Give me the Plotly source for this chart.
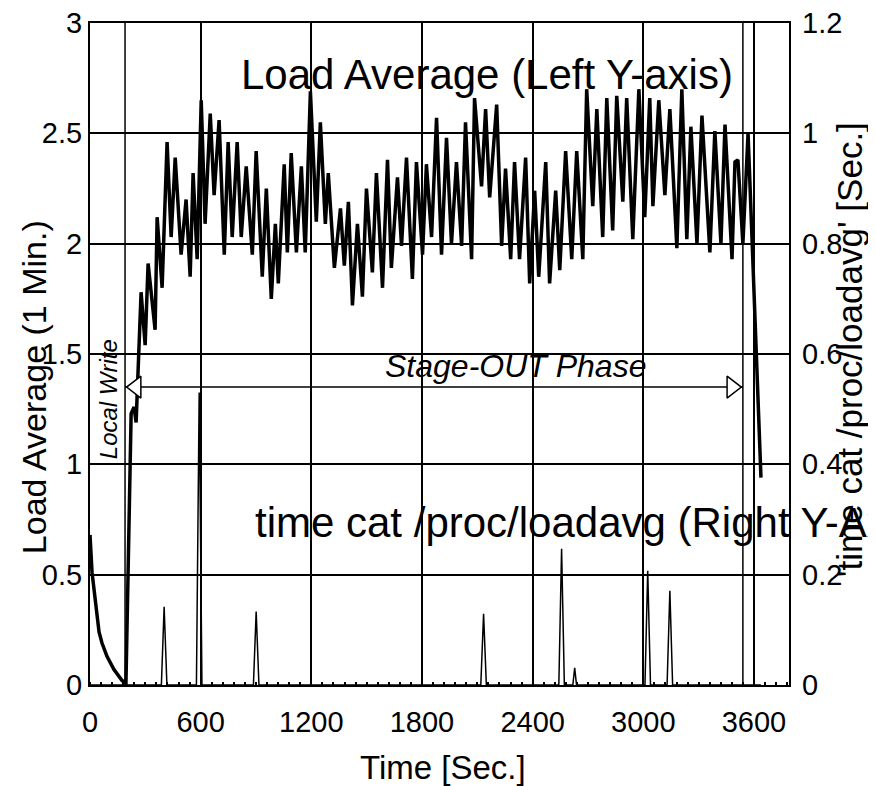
import plotly.graph_objects as go

# Load average (1 min) samples, left y-axis
load_times = [0, 11, 49, 65, 92, 130, 174, 195, 223, 239, 250, 277, 299, 315, 353, 364,
              391, 418, 440, 462, 494, 521, 543, 559, 581, 603, 624, 652, 673, 700, 728,
              749, 771, 798, 820, 847, 880, 901, 934, 956, 983, 1005, 1021, 1053, 1070,
              1091, 1119, 1146, 1167, 1195, 1227, 1249, 1276, 1292, 1325, 1358, 1379,
              1401, 1423, 1450, 1477, 1499, 1531, 1553, 1586, 1613, 1634, 1667, 1689,
              1716, 1748, 1770, 1803, 1824, 1852, 1879, 1906, 1933, 1960, 1987, 2015,
              2036, 2069, 2085, 2123, 2145, 2167, 2205, 2232, 2253, 2281, 2302, 2329,
              2362, 2384, 2411, 2433, 2471, 2492, 2525, 2547, 2579, 2612, 2639, 2672,
              2693, 2726, 2748, 2780, 2802, 2834, 2856, 2889, 2910, 2943, 2976, 3008,
              3035, 3052, 3084, 3117, 3144, 3182, 3209, 3236, 3258, 3291, 3318, 3361,
              3388, 3421, 3443, 3481, 3497, 3513, 3540, 3568, 3589, 3638]
load_values = [0.68, 0.51, 0.24, 0.19, 0.13, 0.07, 0.02, 0.01, 1.23, 1.26, 1.19, 1.78, 1.54,
               1.91, 1.61, 2.12, 1.80, 2.46, 2.03, 2.39, 1.95, 2.20, 1.85, 2.32, 1.93, 2.65,
               2.09, 2.59, 2.22, 2.56, 1.95, 2.46, 2.03, 2.46, 2.03, 2.35, 1.95, 2.42, 1.85,
               2.25, 1.75, 2.09, 1.82, 2.36, 1.96, 2.41, 1.96, 2.35, 1.96, 2.69, 2.10, 2.55,
               2.09, 2.32, 1.89, 2.16, 1.90, 2.19, 1.72, 2.09, 1.76, 2.25, 1.87, 2.32, 1.80,
               2.38, 1.89, 2.30, 1.99, 2.39, 1.84, 2.37, 1.95, 2.36, 2.03, 2.57, 1.95, 2.48,
               2.00, 2.37, 1.99, 2.55, 1.93, 2.66, 2.26, 2.61, 2.21, 2.63, 1.99, 2.34, 1.93,
               2.37, 1.93, 2.39, 1.82, 2.24, 1.85, 2.37, 1.82, 2.24, 1.88, 2.42, 1.93, 2.42,
               1.93, 2.70, 2.17, 2.61, 2.03, 2.66, 2.06, 2.67, 2.19, 2.66, 2.02, 2.70, 2.12,
               2.66, 2.17, 2.65, 2.22, 2.61, 1.98, 2.70, 2.02, 2.53, 2.00, 2.58, 1.96, 2.51,
               2.00, 2.54, 1.93, 2.37, 2.38, 2.00, 2.50, 2.00, 0.94]

# 'time cat /proc/loadavg' duration [sec], right y-axis
cat_times = [0, 387, 402, 417, 577, 592, 607, 886, 901, 916, 2119, 2134, 2149,
             2542, 2557, 2572, 2618, 2628, 2638, 3009, 3024, 3039, 3129, 3144, 3159, 3638]
cat_values = [0, 0, 0.142, 0, 0, 0.53, 0, 0, 0.133, 0, 0, 0.129, 0,
              0, 0.247, 0, 0, 0.031, 0, 0, 0.207, 0, 0, 0.171, 0, 0]

# phase boundaries [sec] and arrow level (left axis)
local_write_end = 190
stage_out_end = 3540
arrow_level = 1.35

x_ticks = [0, 600, 1200, 1800, 2400, 3000, 3600]
y_left_ticks = [0, 0.5, 1, 1.5, 2, 2.5, 3]
y_right_ticks = [0, 0.2, 0.4, 0.6, 0.8, 1, 1.2]

FONT = "Liberation Sans, Arial, sans-serif"
head_off = 60  # arrow head marker offset in seconds

fig = go.Figure()

fig.add_trace(go.Scatter(
    x=cat_times, y=cat_values, yaxis="y2", mode="lines",
    line=dict(color="black", width=1.5), showlegend=False
))

fig.add_trace(go.Scatter(
    x=load_times, y=load_values, mode="lines",
    line=dict(color="black", width=3.5), showlegend=False
))

# Stage-OUT arrow
fig.add_trace(go.Scatter(
    x=[local_write_end, stage_out_end], y=[arrow_level, arrow_level], mode="lines",
    line=dict(color="black", width=1.5), showlegend=False
))
fig.add_trace(go.Scatter(
    x=[local_write_end + head_off, stage_out_end - head_off], y=[arrow_level, arrow_level],
    mode="markers",
    marker=dict(symbol=["triangle-left", "triangle-right"], size=19, color="white",
                line=dict(color="black", width=1.5)),
    showlegend=False
))

for xv in [local_write_end, stage_out_end]:
    fig.add_shape(type="line", x0=xv, x1=xv, y0=0, y1=1, yref="paper",
                  line=dict(color="black", width=1.5), layer="below")

# page body keeps its default 8px margin, so the figure is 8px smaller
fig.update_layout(
    width=868, height=778,
    margin=dict(l=82, r=87, t=15, b=101),
    plot_bgcolor="white", paper_bgcolor="white",
    font=dict(family=FONT, color="black", size=29),
    xaxis=dict(
        range=[0, 3790], tickvals=x_ticks, ticks="", showgrid=True,
        gridcolor="black", gridwidth=1.5, showline=True, linecolor="black",
        linewidth=2, mirror=True, zeroline=False, ticklabelstandoff=10,
        tickfont=dict(size=29), automargin=False, ticklabeloverflow="allow",
        minor=dict(dtick=60, ticks="inside", ticklen=3, tickwidth=1.5,
                   tickcolor="black", showgrid=False),
    ),
    yaxis=dict(
        range=[0, 3], tickvals=y_left_ticks, ticks="", showgrid=True,
        gridcolor="black", gridwidth=1.5, showline=True, linecolor="black",
        linewidth=2, mirror=True, zeroline=False, ticklabelstandoff=0,
        tickfont=dict(size=29), automargin=False, ticklabeloverflow="allow",
    ),
    yaxis2=dict(
        range=[0, 1.2], tickvals=y_right_ticks, overlaying="y", side="right",
        ticks="", showgrid=False, zeroline=False, ticklabelstandoff=12,
        tickfont=dict(size=29), automargin=False, ticklabeloverflow="allow",
    ),
)

annos = [
    dict(text="Load Average (Left Y-axis)", x=0.213, y=0.922, xanchor="left",
         yanchor="middle", font=dict(size=42)),
    dict(text="time cat /proc/loadavg (Right Y-Axis)", x=0.233, y=0.246,
         xanchor="left", yanchor="middle", font=dict(size=42)),
    dict(text="<i>Stage-OUT Phase</i>", x=0.419, y=0.482, xanchor="left",
         yanchor="middle", font=dict(size=32)),
    dict(text="<i>Local Write</i>", x=0.026, y=0.432, xanchor="center",
         yanchor="middle", textangle=-90, font=dict(size=24)),
    dict(text="Load Average (1 Min.)", x=-0.08, y=0.45, xanchor="center",
         yanchor="middle", textangle=-90, font=dict(size=34)),
    dict(text="'time cat /proc/loadavg' [Sec.]", x=1.086, y=0.506, xanchor="center",
         yanchor="middle", textangle=-90, font=dict(size=35)),
    dict(text="Time [Sec.]", x=0.505, y=-0.125, xanchor="center",
         yanchor="middle", font=dict(size=33)),
]
for a in annos:
    fig.add_annotation(xref="paper", yref="paper", showarrow=False, **a)

fig.write_html("out.html")
